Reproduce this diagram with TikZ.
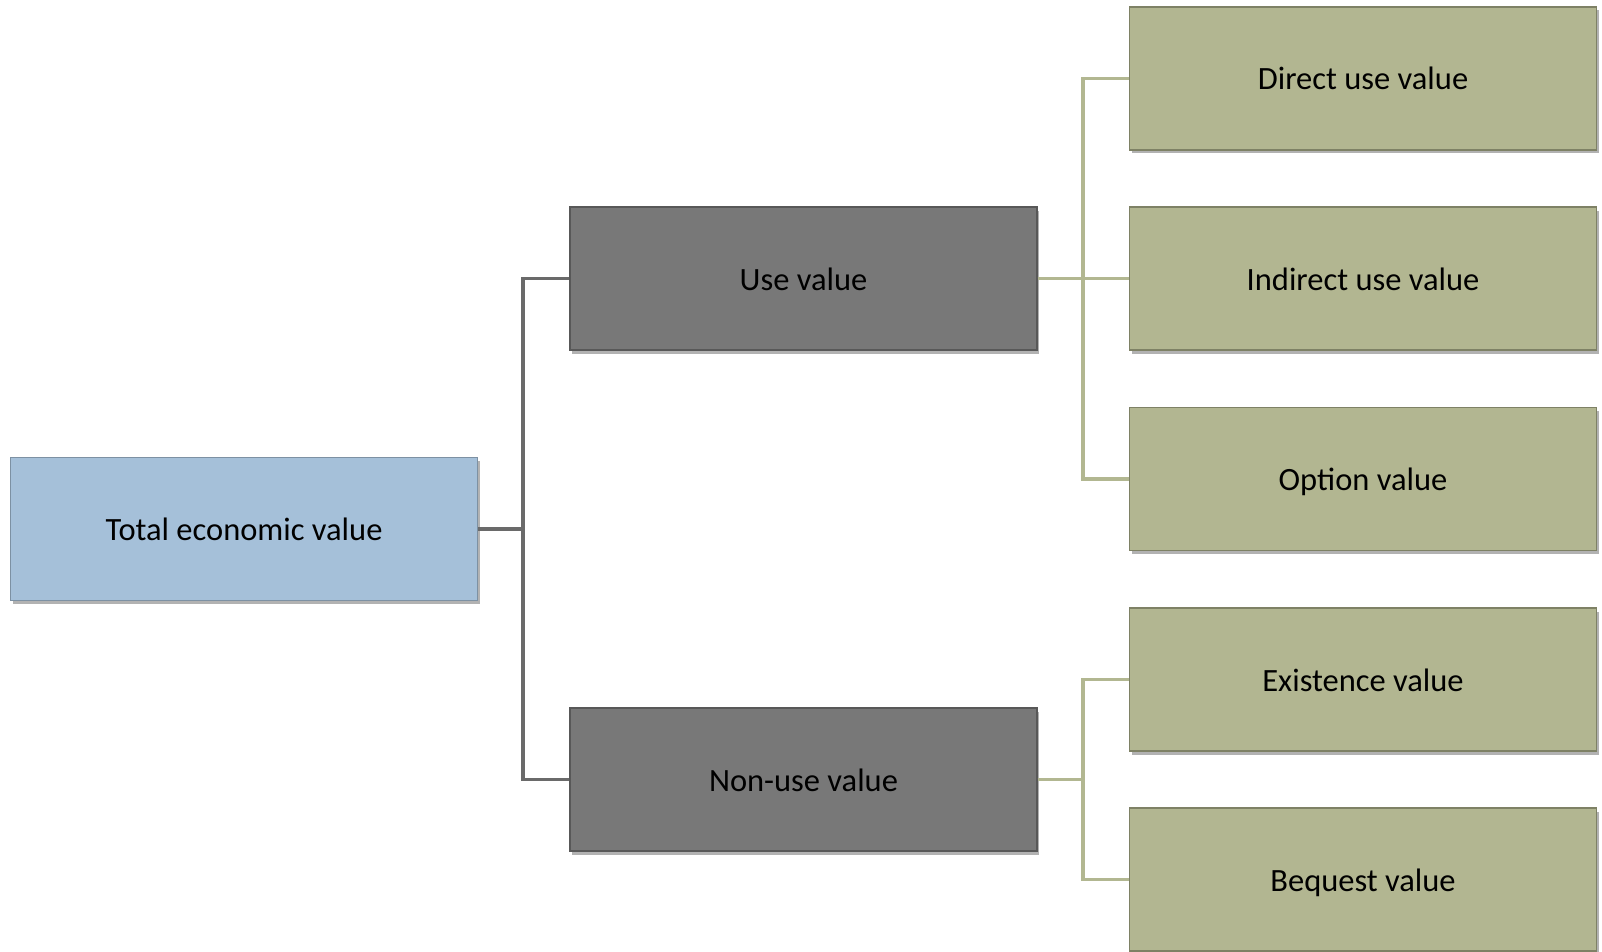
\documentclass[tikz,border=0pt]{standalone}
\usepackage{fontspec}
\setmainfont{Carlito}
\usetikzlibrary{shadows}
\definecolor{bluefill}{HTML}{A5C0D9}
\definecolor{blueedge}{HTML}{7D91A3}
\definecolor{grayfill}{HTML}{787878}
\definecolor{grayedge}{HTML}{585858}
\definecolor{greenfill}{HTML}{B2B691}
\definecolor{greenedge}{HTML}{7E8165}
\definecolor{grayconn}{HTML}{6A6A6A}
\definecolor{greenconn}{HTML}{B2B791}
\tikzset{
  box/.style={rectangle, minimum width=467pt, minimum height=143pt, inner sep=0pt,
    line width=1.4pt, font=\fontsize{32.5}{38}\selectfont, text=black,
    text depth=0pt, text height=23pt,
    drop shadow={shadow xshift=2pt, shadow yshift=-3.5pt, opacity=0.5, fill=black!60}},
  topbox/.style={box, fill=bluefill, draw=blueedge},
  midbox/.style={box, fill=grayfill, draw=grayedge},
  leafbox/.style={box, fill=greenfill, draw=greenedge},
  gconn/.style={draw=grayconn, line width=3.6pt},
  lconn/.style={draw=greenconn, line width=3.6pt},
}
\begin{document}
\begin{tikzpicture}[x=1pt, y=-1pt]
\useasboundingbox (0,0) rectangle (1602,952);
\node[topbox] (tev) at (244,529) {Total economic value};
\node[midbox] (use) at (803.5,278.5) {Use value};
\node[midbox] (non) at (803.5,779.5) {Non-use value};
\node[leafbox] (dir) at (1363,78.5) {Direct use value};
\node[leafbox] (ind) at (1363,278.5) {Indirect use value};
\node[leafbox] (opt) at (1363,479) {Option value};
\node[leafbox] (ext) at (1363,679.5) {Existence value};
\node[leafbox] (beq) at (1363,879.5) {Bequest value};
\coordinate (busA) at (523,0);
\coordinate (busB) at (1083,0);
\draw[gconn] (tev.east) -- (tev.east -| busA);
\draw[gconn] (use.west) -| (busA |- tev.east) |- (non.west);
\draw[lconn] (use.east) -- (use.east -| busB);
\draw[lconn] (dir.west) -| (busB |- use.east) |- (opt.west);
\draw[lconn] (busB |- use.east) -- (ind.west);
\draw[lconn] (non.east) -- (non.east -| busB);
\draw[lconn] (ext.west) -| (busB |- non.east) |- (beq.west);
\end{tikzpicture}
\end{document}
